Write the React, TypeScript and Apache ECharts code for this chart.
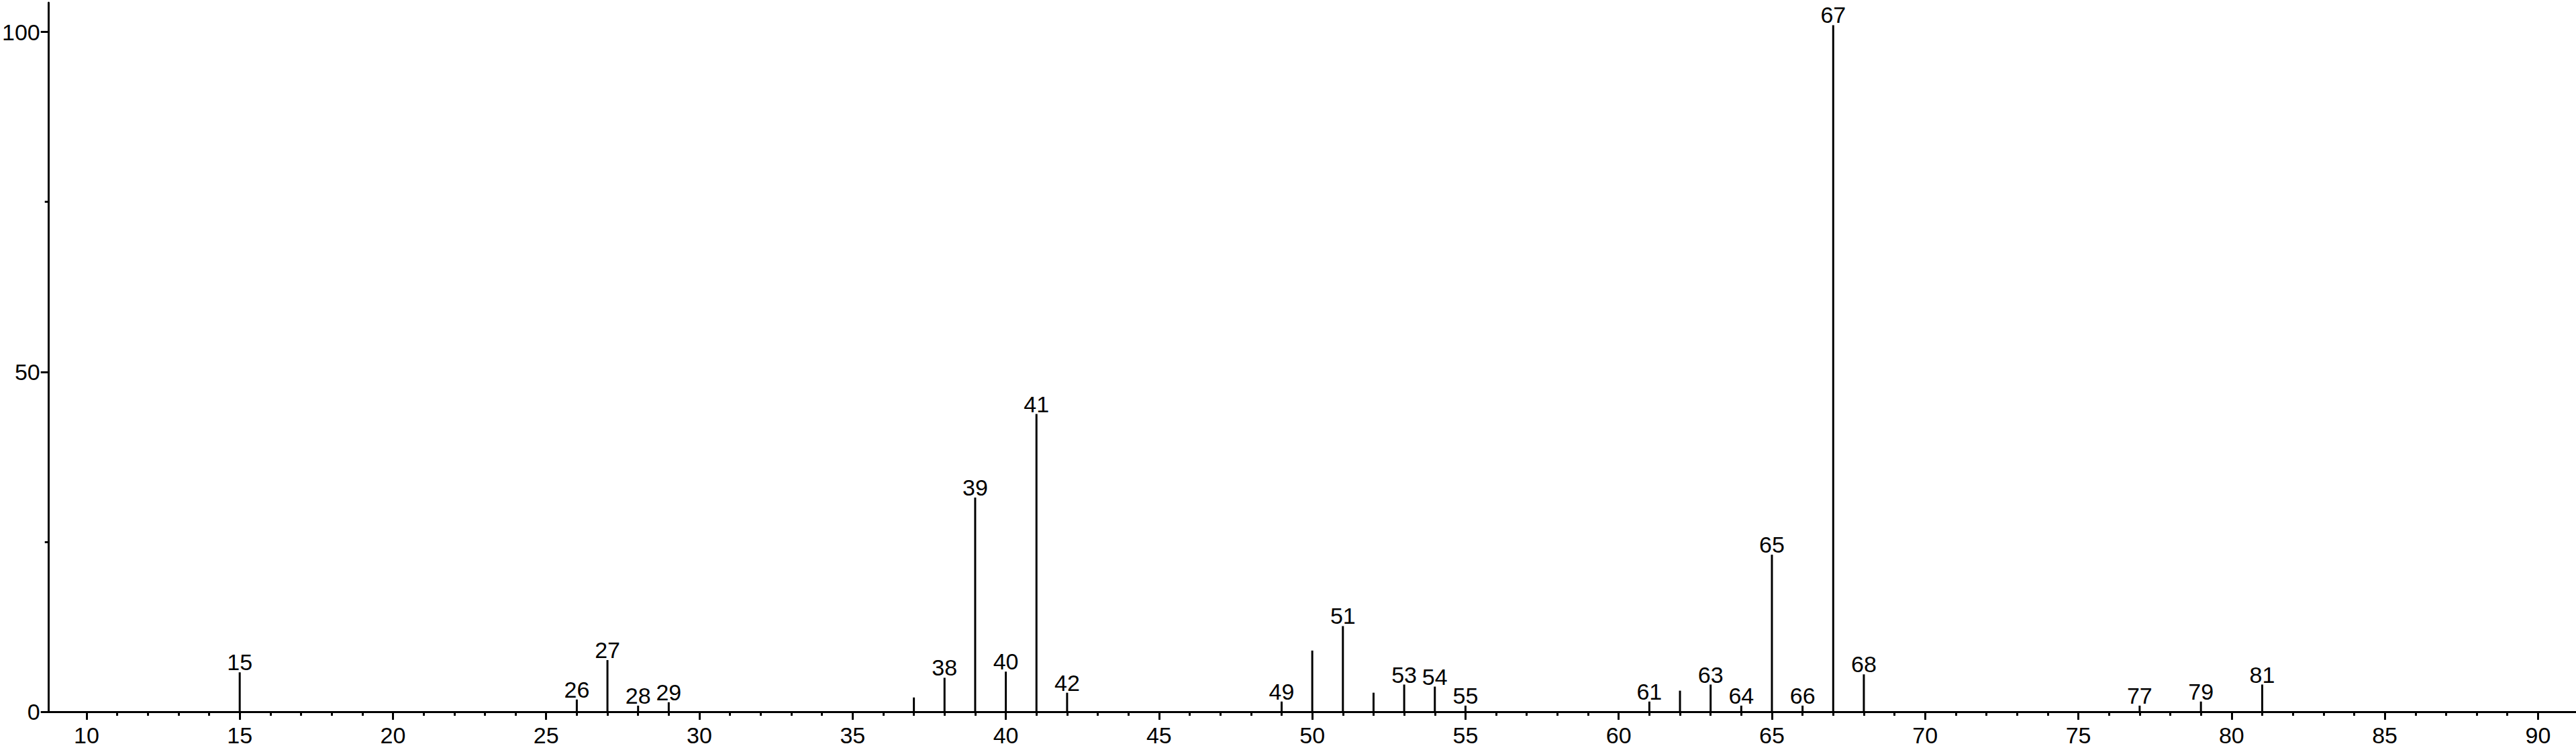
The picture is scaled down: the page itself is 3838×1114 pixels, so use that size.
import React, { useEffect, useRef } from "react";
import * as echarts from "echarts";

// m/z of each peak and its relative intensity (%)
const mzValues = [15, 26, 27, 28, 29, 37, 38, 39, 40, 41, 42, 49, 50, 51, 52, 53, 54, 55, 61, 62, 63, 64, 65, 66, 67, 68, 77, 79, 81];
const intensities = [5.8, 1.8, 7.6, 0.9, 1.4, 2.1, 5.0, 31.5, 5.9, 43.8, 2.8, 1.5, 9.0, 12.6, 2.8, 4.0, 3.7, 0.9, 1.5, 3.1, 4.0, 0.9, 23.1, 0.9, 101, 5.5, 0.9, 1.5, 4.0];
const unlabeledMz = [37, 50, 52, 62];

const xMajorTicks = [10, 15, 20, 25, 30, 35, 40, 45, 50, 55, 60, 65, 70, 75, 80, 85, 90];
const xMinorTicks = [11, 12, 13, 14, 16, 17, 18, 19, 21, 22, 23, 24, 26, 27, 28, 29, 31, 32, 33, 34, 36, 37, 38, 39, 41, 42, 43, 44, 46, 47, 48, 49, 51, 52, 53, 54, 56, 57, 58, 59, 61, 62, 63, 64, 66, 67, 68, 69, 71, 72, 73, 74, 76, 77, 78, 79, 81, 82, 83, 84, 86, 87, 88, 89];
const yMajorTicks = [0, 50, 100];
const yMinorTicks = [25, 75];

const X_MIN = 8.77;
const X_MAX = 91.24;
const Y_MIN = 0;
const Y_MAX = 104.3;

const FONT = "'Liberation Sans', Arial, sans-serif";

export default function App() {
  const ref = useRef<HTMLDivElement>(null);

  useEffect(() => {
    document.body.style.margin = "0";
    if (!ref.current) return;
    const chart = echarts.init(ref.current, null, { renderer: "svg" });

    const data = mzValues.map((mz, i) => ({
      value: [mz, intensities[i]],
      label: { show: unlabeledMz.indexOf(mz) < 0 },
    }));

    const axisLine = { show: true, onZero: false, lineStyle: { color: "#000", width: 3 } };

    chart.setOption({
      animation: false,
      backgroundColor: "#fff",
      grid: { left: 69, right: 0, top: 4, bottom: 54, containLabel: false },
      xAxis: [
        {
          type: "value",
          position: "bottom",
          min: X_MIN,
          max: X_MAX,
          axisLine,
          axisTick: { show: true, customValues: xMajorTicks, length: 12, lineStyle: { color: "#000", width: 3 } },
          axisLabel: { show: true, customValues: xMajorTicks, margin: 18, fontSize: 34, color: "#000", fontFamily: FONT },
          splitLine: { show: false },
        },
        {
          type: "value",
          position: "bottom",
          min: X_MIN,
          max: X_MAX,
          axisLine: { show: false, onZero: false },
          axisTick: { show: true, customValues: xMinorTicks, length: 6, lineStyle: { color: "#000", width: 3 } },
          axisLabel: { show: false },
          splitLine: { show: false },
        },
      ],
      yAxis: [
        {
          type: "value",
          position: "left",
          min: Y_MIN,
          max: Y_MAX,
          axisLine,
          axisTick: { show: true, customValues: yMajorTicks, length: 12, lineStyle: { color: "#000", width: 3 } },
          axisLabel: { show: true, customValues: yMajorTicks, margin: 13, fontSize: 34, color: "#000", fontFamily: FONT, padding: [6, 0, 0, 0] },
          splitLine: { show: false },
        },
        {
          type: "value",
          position: "left",
          min: Y_MIN,
          max: Y_MAX,
          axisLine: { show: false, onZero: false },
          axisTick: { show: true, customValues: yMinorTicks, length: 6, lineStyle: { color: "#000", width: 3 } },
          axisLabel: { show: false },
          splitLine: { show: false },
        },
      ],
      series: [
        {
          type: "bar",
          xAxisIndex: 0,
          yAxisIndex: 0,
          barWidth: 3,
          itemStyle: { color: "#000" },
          label: {
            position: "top",
            distance: 0,
            offset: [0, 2],
            fontSize: 34,
            color: "#000",
            fontFamily: FONT,
            formatter: (p: any) => String(p.value[0]),
          },
          data,
        },
      ],
    });

    return () => chart.dispose();
  }, []);

  return <div ref={ref} style={{ width: 3838, height: 1114 }} />;
}
